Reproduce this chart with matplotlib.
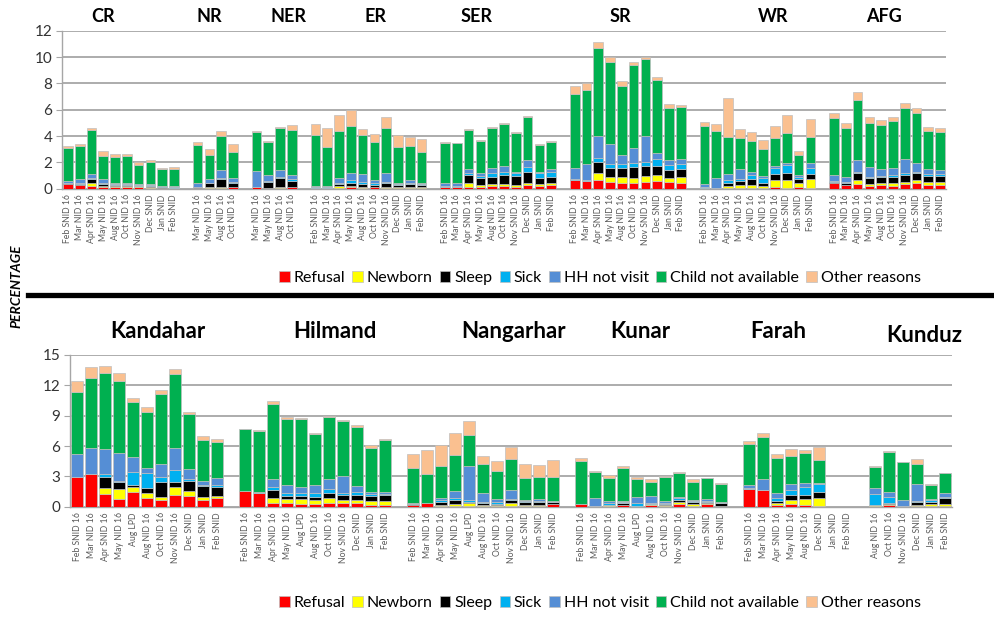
import numpy as np
import matplotlib
matplotlib.use("Agg")
import matplotlib.pyplot as plt
from matplotlib.lines import Line2D
from matplotlib.patches import Patch

plt.rcParams.update({"font.family": ["Lato", "DejaVu Sans"], "font.size": 10})

reasons = ["Refusal", "Newborn", "Sleep", "Sick", "HH not visit",
           "Child not available", "Other reasons"]
colors = ["#FF0000", "#FFFF00", "#000000", "#00B0F0", "#558ED5",
          "#00B050", "#FAC090"]

# ---- top panel: regions ----
top_groups = ["CR", "NR", "NER", "ER", "SER", "SR", "WR", "AFG"]
rounds10 = ["Feb SNID 16", "Mar NID 16", "Apr SNID 16", "May NID 16", "Aug NID 16",
            "Oct NID 16", "Nov SNID 16", "Dec SNID", "Jan SNID", "Feb SNID"]
rounds4 = ["Mar NID 16", "May NID 16", "Aug NID 16", "Oct NID 16"]
top_periods = [rounds10, rounds4, rounds4, rounds10, rounds10, rounds10, rounds10, rounds10]

top_refusal = [0.35, 0.3, 0.2, 0.1, 0.1, 0.15, 0.15, 0.05, 0.02, 0.02,
               0.05, 0.05, 0.05, 0.1,
               0.1, 0.02, 0.05, 0.1,
               0.02, 0.02, 0.05, 0.1, 0.05, 0.1, 0.05, 0.05, 0.05, 0.05,
               0.1, 0.1, 0.15, 0.15, 0.2, 0.2, 0.15, 0.28, 0.2, 0.28,
               0.66, 0.58, 0.66, 0.53, 0.46, 0.41, 0.53, 0.58, 0.53, 0.46,
               0.08, 0.0, 0.08, 0.08, 0.08, 0.08, 0.1, 0.02, 0.1, 0.02,
               0.41, 0.25, 0.33, 0.2, 0.25, 0.2, 0.33, 0.41, 0.28, 0.28]
top_newborn = [0.02, 0.0, 0.2, 0.1, 0.1, 0.05, 0.02, 0.05, 0.02, 0.0,
               0.0, 0.1, 0.1, 0.05,
               0.0, 0.05, 0.1, 0.05,
               0.02, 0.02, 0.15, 0.1, 0.1, 0.05, 0.1, 0.1, 0.1, 0.05,
               0.0, 0.0, 0.26, 0.13, 0.15, 0.15, 0.13, 0.18, 0.13, 0.12,
               0.0, 0.0, 0.56, 0.38, 0.4, 0.43, 0.46, 0.46, 0.25, 0.45,
               0.0, 0.0, 0.12, 0.17, 0.17, 0.12, 0.56, 0.64, 0.35, 0.72,
               0.05, 0.05, 0.33, 0.15, 0.16, 0.21, 0.2, 0.25, 0.23, 0.23]
top_sleep = [0.05, 0.05, 0.35, 0.15, 0.1, 0.1, 0.05, 0.1, 0.1, 0.05,
             0.05, 0.25, 0.6, 0.3,
             0.0, 0.45, 0.7, 0.45,
             0.02, 0.05, 0.13, 0.26, 0.2, 0.13, 0.25, 0.13, 0.2, 0.15,
             0.05, 0.05, 0.63, 0.5, 0.56, 0.69, 0.71, 0.83, 0.45, 0.51,
             0.0, 0.02, 0.78, 0.63, 0.68, 0.83, 0.76, 0.71, 0.64, 0.58,
             0.0, 0.0, 0.26, 0.35, 0.46, 0.26, 0.43, 0.56, 0.25, 0.35,
             0.05, 0.1, 0.5, 0.43, 0.45, 0.45, 0.51, 0.5, 0.45, 0.45]
top_sick = [0.05, 0.05, 0.1, 0.1, 0.05, 0.05, 0.05, 0.05, 0.05, 0.05,
            0.05, 0.05, 0.05, 0.05,
            0.05, 0.05, 0.05, 0.1,
            0.05, 0.05, 0.13, 0.2, 0.15, 0.17, 0.13, 0.07, 0.11, 0.08,
            0.05, 0.05, 0.18, 0.18, 0.31, 0.25, 0.17, 0.38, 0.38, 0.38,
            0.05, 0.05, 0.35, 0.31, 0.33, 0.25, 0.3, 0.48, 0.38, 0.36,
            0.02, 0.02, 0.2, 0.1, 0.33, 0.32, 0.45, 0.58, 0.2, 0.5,
            0.08, 0.1, 0.13, 0.13, 0.1, 0.18, 0.12, 0.13, 0.15, 0.13]
top_hh = [0.1, 0.3, 0.25, 0.25, 0.1, 0.1, 0.1, 0.1, 0.05, 0.1,
          0.25, 0.3, 0.65, 0.35,
          1.2, 0.45, 0.55, 0.35,
          0.1, 0.1, 0.32, 0.5, 0.59, 0.21, 0.63, 0.11, 0.2, 0.07,
          0.26, 0.2, 0.25, 0.26, 0.32, 0.46, 0.13, 0.51, 0.13, 0.18,
          0.88, 1.2, 1.65, 1.54, 0.69, 1.19, 1.95, 0.5, 0.38, 0.38,
          0.25, 0.76, 0.45, 0.77, 0.25, 0.18, 0.18, 0.12, 0.15, 0.33,
          0.45, 0.41, 0.89, 0.76, 0.51, 0.5, 1.07, 0.63, 0.36, 0.33]
top_child = [2.55, 2.55, 3.35, 1.75, 1.95, 2.0, 1.45, 1.7, 1.25, 1.3,
             2.9, 1.8, 2.55, 1.95,
             2.95, 2.5, 3.15, 3.4,
             3.9, 2.95, 3.6, 3.57, 2.99, 2.86, 3.42, 2.68, 2.58, 2.38,
             3.03, 3.05, 2.99, 2.43, 3.07, 3.14, 2.91, 3.24, 2.03, 2.07,
             5.6, 5.64, 6.66, 6.26, 5.24, 6.26, 5.82, 5.52, 3.92, 4.0,
             4.41, 3.6, 2.84, 2.35, 2.36, 2.03, 2.1, 2.28, 1.48, 2.03,
             4.3, 3.67, 4.55, 3.29, 3.37, 3.62, 3.92, 3.8, 2.91, 2.86]
top_other = [0.15, 0.15, 0.15, 0.4, 0.2, 0.15, 0.2, 0.15, 0.1, 0.15,
             0.25, 0.45, 0.4, 0.6,
             0.05, 0.1, 0.1, 0.35,
             0.8, 1.45, 1.22, 1.24, 0.42, 0.63, 0.84, 0.96, 0.71, 0.97,
             0.08, 0.05, 0.05, 0.05, 0.05, 0.07, 0.08, 0.12, 0.08, 0.11,
             0.61, 0.51, 0.45, 0.38, 0.4, 0.28, 0.15, 0.21, 0.33, 0.12,
             0.28, 0.51, 2.91, 0.68, 0.68, 0.71, 0.94, 1.4, 0.33, 1.34,
             0.38, 0.38, 0.64, 0.51, 0.38, 0.31, 0.33, 0.43, 0.33, 0.35]

# ---- bottom panel: provinces ----
bot_groups = ["Kandahar", "Hilmand", "Nangarhar", "Kunar", "Farah", "Kunduz"]
rounds11 = ["Feb SNID 16", "Mar NID 16", "Apr SNID 16", "May NID 16", "Aug LPD",
            "Aug NID 16", "Oct NID 16", "Nov SNID 16", "Dec SNID", "Jan SNID", "Feb SNID"]
farah_rounds = ["Feb SNID 16", "Mar NID 16", "Apr SNID 16", "May NID 16", "Aug NID 16",
                "Dec SNID", "Jan SNID", "Feb SNID"]
kunduz_rounds = ["Aug NID 16", "Oct NID 16", "Nov SNID 16", "Dec SNID", "Jan SNID", "Feb SNID"]
bot_periods = [rounds11, rounds11, rounds11, rounds11, farah_rounds, kunduz_rounds]

bot_refusal = [2.9, 3.2, 1.25, 0.79, 1.42, 0.89, 0.66, 1.15, 1.1, 0.7, 0.85,
               1.52, 1.4, 0.33, 0.33, 0.26, 0.3, 0.4, 0.33, 0.33, 0.2, 0.16,
               0.16, 0.33, 0.1, 0.1, 0.1, 0.1, 0.1, 0.1, 0.05, 0.05, 0.26,
               0.23, 0.02, 0.03, 0.13, 0.02, 0.15, 0.1, 0.3, 0.1, 0.3, 0.05,
               1.75, 1.65, 0.16, 0.23, 0.16, 0.02, 0, 0,
               0.05, 0.2, 0.02, 0.02, 0.05, 0.05]
bot_newborn = [0, 0, 0.56, 0.92, 0.56, 0.49, 0.33, 0.83, 0.45, 0.3, 0.25,
               0, 0, 0.49, 0.43, 0.46, 0.36, 0.42, 0.33, 0.33, 0.4, 0.43,
               0.05, 0, 0.1, 0.16, 0.23, 0.1, 0.08, 0.23, 0.15, 0.15, 0.05,
               0, 0, 0.1, 0.05, 0.02, 0.1, 0.1, 0.2, 0.16, 0.1, 0.05,
               0, 0, 0.17, 0.43, 0.57, 0.87, 0, 0,
               0.1, 0.1, 0.02, 0.14, 0.18, 0.18]
bot_sleep = [0, 0, 1.09, 0.73, 0.16, 0.43, 1.42, 0.49, 1.0, 1.0, 0.85,
             0, 0, 0.83, 0.33, 0.34, 0.33, 0.56, 0.49, 0.49, 0.5, 0.56,
             0.05, 0.02, 0.3, 0.4, 0.16, 0.13, 0.08, 0.33, 0.3, 0.29, 0.18,
             0, 0, 0.02, 0.2, 0.02, 0.05, 0.1, 0.16, 0.23, 0.09, 0.25,
             0, 0, 0.23, 0.49, 0.42, 0.53, 0, 0,
             0.02, 0.05, 0.02, 0.33, 0.26, 0.59]
bot_sick = [0.05, 0.05, 0.33, 0.1, 1.32, 1.49, 0.56, 1.16, 0.17, 0.1, 0.15,
            0, 0.02, 0.33, 0.23, 0.32, 0.39, 0.33, 0.17, 0.33, 0.13, 0.07,
            0.05, 0.02, 0.15, 0.16, 0.17, 0.16, 0.17, 0.07, 0.06, 0.1, 0.02,
            0.02, 0.05, 0.18, 0.08, 0.27, 0.1, 0.1, 0.16, 0.05, 0.1, 0.02,
            0.05, 0.05, 0.26, 0.5, 0.76, 0.82, 0, 0,
            1.05, 0.64, 0.05, 0.05, 0.17, 0.1]
bot_hh = [2.26, 2.52, 2.47, 2.74, 1.42, 0.56, 1.25, 2.21, 1.05, 0.45, 0.75,
          0.06, 0.08, 0.76, 0.82, 0.6, 0.76, 1.03, 1.75, 0.56, 0.26, 0.26,
          0.1, 0.03, 0.25, 0.73, 3.4, 0.83, 0.3, 0.92, 0.1, 0.14, 0.05,
          0.05, 0.82, 0.23, 0.1, 0.66, 0.66, 0.16, 0.17, 0.12, 0.14, 0.05,
          0.34, 1.04, 0.56, 0.59, 0.46, 0.1, 0, 0,
          0.66, 0.49, 0.55, 1.67, 0.1, 0.46]
bot_child = [6.16, 6.99, 7.49, 7.15, 5.51, 5.47, 6.89, 7.28, 5.36, 4.05, 3.55,
             6.07, 6.0, 7.41, 6.5, 6.66, 5.01, 6.1, 5.4, 5.87, 4.36, 5.11,
             3.38, 2.83, 3.16, 3.56, 3.03, 2.9, 2.83, 3.03, 2.21, 2.17, 2.41,
             4.22, 2.57, 2.24, 3.3, 1.75, 1.41, 2.41, 2.37, 1.75, 2.07, 1.84,
             4.06, 4.18, 3.4, 2.8, 2.91, 2.24, 0, 0,
             2.08, 3.96, 3.72, 1.98, 1.38, 1.92]
bot_other = [1.09, 1.02, 0.76, 0.82, 0.39, 0.5, 0.43, 0.5, 0.2, 0.4, 0.33,
             0.07, 0.1, 0.33, 0.2, 0.1, 0.17, 0.13, 0.1, 0.17, 0.26, 0.1,
             1.42, 2.37, 2.04, 2.14, 1.41, 0.82, 0.99, 1.25, 1.35, 1.22, 1.65,
             0.26, 0.1, 0.33, 0.2, 0.23, 0.23, 0.06, 0.1, 0.33, 0.07, 0.05,
             0.33, 0.4, 0.43, 0.63, 0.32, 1.29, 0, 0,
             0.1, 0.1, 0.07, 0.52, 0.07, 0.06]

top_series = [top_refusal, top_newborn, top_sleep, top_sick, top_hh, top_child, top_other]
bot_series = [bot_refusal, bot_newborn, bot_sleep, bot_sick, bot_hh, bot_child, bot_other]

# group title positions (figure pixels, x)
top_title_x = [103, 209, 289, 375, 477, 620, 773, 884]
bot_title_x = [158, 335, 514, 640, 778, 924]


def draw_panel(ax, periods, series, ymax, ystep, width):
    pos, labels, start = [], [], 0
    for g in periods:
        pos += list(range(start, start + len(g)))
        labels += g
        start += len(g) + 1
    pos = np.array(pos)
    bottom = np.zeros(len(pos))
    for vals, c in zip(series, colors):
        vals = np.array(vals, dtype=float)
        ax.bar(pos, vals, width, bottom=bottom, color=c,
               edgecolor="#BFBFBF", linewidth=0.5, zorder=3)
        bottom += vals
    ax.set_xlim(-0.5, start - 1.5)
    ax.set_ylim(0, ymax)
    ax.set_yticks(np.arange(0, ymax + 0.1, ystep))
    ax.grid(axis="y", color="#A6A6A6", lw=1.3, zorder=0)
    ax.set_xticks(pos)
    ax.set_xticklabels(labels, rotation=90, fontsize=6.2, color="#595959")
    ax.tick_params(axis="x", length=0, pad=4)
    ax.tick_params(axis="y", length=4, color="#A6A6A6", labelsize=11,
                   labelcolor="#333333", pad=3)
    for s in ("top", "right"):
        ax.spines[s].set_visible(False)
    for s in ("left", "bottom"):
        ax.spines[s].set_color("#A6A6A6")
        ax.spines[s].set_linewidth(1.0)


W, H = 994, 617
fig = plt.figure(figsize=(W / 100, H / 100), dpi=100)
ax1 = fig.add_axes([62 / W, 1 - 188.7 / H, (946 - 62) / W, 158 / H])
ax2 = fig.add_axes([70 / W, 1 - 506.7 / H, (952 - 70) / W, 151.7 / H])

draw_panel(ax1, top_periods, top_series, 12, 2, 0.82)
draw_panel(ax2, bot_periods, bot_series, 15, 3, 0.8)

for name, x in zip(top_groups, top_title_x):
    fig.text(x / W, 1 - 17 / H, name, ha="center", va="center",
             fontsize=13, fontweight="bold")
for name, x in zip(bot_groups, bot_title_x):
    yy = 335 if name == "Kunduz" else 332
    fig.text(x / W, 1 - yy / H, name, ha="center", va="center",
             fontsize=16, fontweight="bold")

handles = [Patch(facecolor=c, edgecolor="#BFBFBF", linewidth=0.5) for c in colors]
for yc in (278, 603):
    fig.legend(handles, reasons, loc="center", bbox_to_anchor=(600 / W, 1 - yc / H),
               ncol=7, frameon=False, fontsize=11.5, handlelength=0.65,
               handleheight=0.65, handletextpad=0.25, columnspacing=0.45)

fig.add_artist(Line2D([28 / W, 1], [1 - 295 / H, 1 - 295 / H], color="black", lw=3.8))
fig.text(16 / W, 1 - 286 / H, "PERCENTAGE", rotation=90, ha="center", va="center",
         fontsize=10, fontweight="bold", fontstyle="italic")

fig.savefig("out.png", dpi=100)
